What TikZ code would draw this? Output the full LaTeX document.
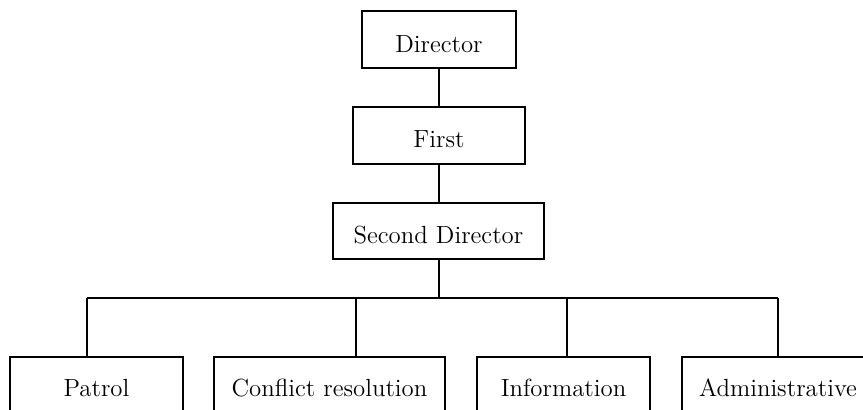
\documentclass[tikz,border=0pt]{standalone}
\begin{document}
\begin{tikzpicture}[x=0.5pt,y=-0.5pt,
  box/.style={draw, line width=1pt, inner sep=0pt, align=center,
    font=\fontsize{12.4}{14}\selectfont},
  link/.style={line width=1pt}]
\clip (0,0) rectangle (863,410);
\node[box, minimum width=77pt, text height=21pt, text depth=7.5pt] (dir) at (439,39.5) {Director};
\node[box, minimum width=86pt, text height=20.5pt, text depth=8pt] (first) at (439,135.5) {First};
\node[box, minimum width=105.5pt, text height=20.5pt, text depth=7.5pt] (second) at (438.5,231) {Second Director};
\node[box, minimum width=86.5pt, text height=20pt, text depth=13pt] (patrol) at (96.5,390) {Patrol};
\node[box, minimum width=115.5pt, text height=20pt, text depth=13pt] (conflict) at (329.5,390) {Conflict resolution};
\node[box, minimum width=86.5pt, text height=20pt, text depth=13pt] (info) at (563.5,390) {Information};
\node[box, minimum width=96pt, text height=20pt, text depth=13pt] (admin) at (778,390) {Administrative};
\coordinate (bus) at (439,298);
\coordinate (b1) at (87,298);
\coordinate (b2) at (356,298);
\coordinate (b3) at (567,298);
\coordinate (b4) at (778,298);
\draw[link] (dir.south) -- (dir.south |- first.north);
\draw[link] (first.south) -- (first.south |- second.north);
\draw[link] (bus |- second.south) -- (bus);
\draw[link] (b1) -- (b4);
\draw[link] (b1) -- (b1 |- patrol.north);
\draw[link] (b2) -- (b2 |- conflict.north);
\draw[link] (b3) -- (b3 |- info.north);
\draw[link] (b4) -- (b4 |- admin.north);
\end{tikzpicture}
\end{document}
